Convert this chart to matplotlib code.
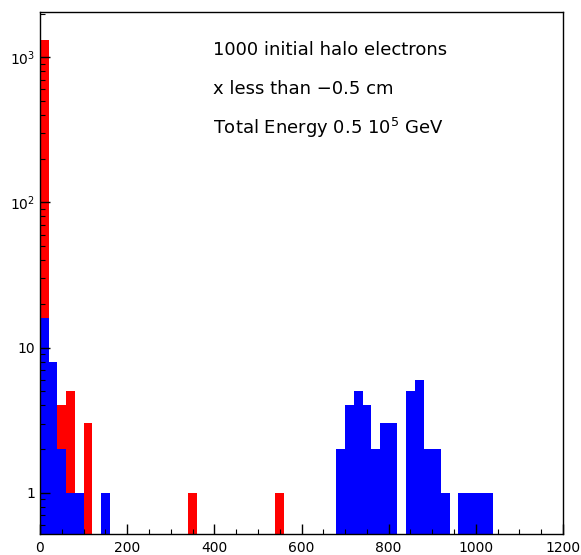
import matplotlib
matplotlib.use("Agg")
import matplotlib.pyplot as plt
from matplotlib.ticker import FixedLocator, LogLocator, MultipleLocator, NullFormatter
import numpy as np

bin_width = 20
red_left = [0, 40, 60, 100, 340, 540]
red_counts = [1310, 4, 5, 3, 1, 1]
blue_left = [0, 20, 40, 60, 80, 140, 680, 700, 720, 740, 760, 780, 800,
             840, 860, 880, 900, 920, 960, 980, 1000, 1020]
blue_counts = [16, 8, 2, 1, 1, 1, 2, 4, 5, 4, 2, 3, 3,
               5, 6, 2, 2, 1, 1, 1, 1, 1]
ytick_vals = [1, 10, 100, 1000]
ytick_labels = ["1", "10", r"$10^{2}$", r"$10^{3}$"]
xtick_vals = [0, 200, 400, 600, 800, 1000, 1200]
texts = ["1000 initial halo electrons", "x less than \u22120.5 cm",
         r"Total Energy 0.5 10$^{5}$ GeV"]

plt.rcParams['font.family'] = ['DejaVu Sans']
plt.rcParams['mathtext.fontset'] = 'dejavusans'
fig = plt.figure(figsize=(5.81, 5.55), dpi=100)
ax = fig.add_axes([40/581, 21/555, 523/581, 522/555])

ax.bar(red_left, red_counts, width=bin_width, align='edge', bottom=1e-3,
       color='#ff0000', linewidth=0)
ax.bar(blue_left, blue_counts, width=bin_width, align='edge', bottom=1e-3,
       color='#0000ff', linewidth=0)

ax.set_yscale('log')
ax.set_xlim(0, 1200)
ax.set_ylim(0.52, 2050)

ax.xaxis.set_major_locator(FixedLocator(xtick_vals))
ax.xaxis.set_minor_locator(MultipleLocator(50))
ax.set_xticklabels([str(v) for v in xtick_vals])
ax.yaxis.set_major_locator(FixedLocator(ytick_vals))
ax.set_yticklabels(ytick_labels)
ax.yaxis.set_minor_locator(LogLocator(base=10, subs=np.arange(2, 10)))
ax.yaxis.set_minor_formatter(NullFormatter())

ax.tick_params(axis='both', which='major', direction='in', length=7, width=1,
               labelsize=10, top=False, right=False)
ax.tick_params(axis='both', which='minor', direction='in', length=3.5, width=0.8,
               top=False, right=False)
ax.tick_params(axis='x', pad=5)
for s in ax.spines.values():
    s.set_linewidth(1)

ys = [0.927, 0.852, 0.778]
for t, y in zip(texts, ys):
    ax.text(0.33, y, t, transform=ax.transAxes, fontsize=13, ha='left', va='center')

fig.savefig("out.png", dpi=100)
